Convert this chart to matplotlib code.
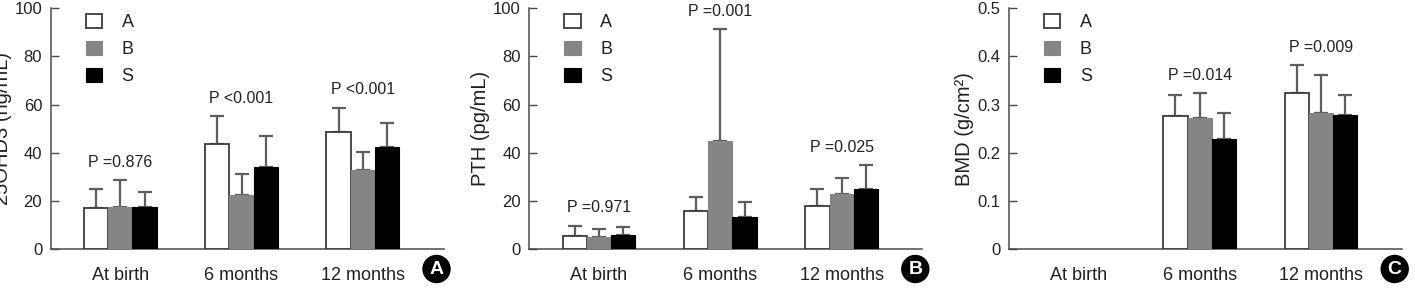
import matplotlib
matplotlib.use("Agg")
import matplotlib.pyplot as plt
from matplotlib.patches import Circle
import numpy as np

plt.rcParams['font.family'] = ['Liberation Sans', 'DejaVu Sans']

categories = ["At birth", "6 months", "12 months"]
groups = ["A", "B", "S"]

# Panel A: 25OHD3 (ng/mL)
ohd_mean = {"A": [17.0, 43.6, 48.6], "B": [17.7, 22.4, 32.9], "S": [17.7, 34.3, 42.3]}
ohd_top = {"A": [24.9, 55.1, 58.6], "B": [28.7, 31.2, 40.5], "S": [23.6, 47.1, 52.2]}
ohd_p = ["P =0.876", "P <0.001", "P <0.001"]

# Panel B: PTH (pg/mL)
pth_mean = {"A": [5.5, 16.0, 18.1], "B": [5.2, 44.8, 22.9], "S": [5.9, 13.5, 24.9]}
pth_top = {"A": [9.7, 21.5, 24.9], "B": [8.3, 91.2, 29.7], "S": [9.1, 19.8, 34.9]}
pth_p = ["P =0.971", "P =0.001", "P =0.025"]

# Panel C: BMD (g/cm2) - no measurement at birth
bmd_mean = {"A": [np.nan, 0.276, 0.324], "B": [np.nan, 0.272, 0.282], "S": [np.nan, 0.228, 0.278]}
bmd_top = {"A": [np.nan, 0.320, 0.381], "B": [np.nan, 0.323, 0.361], "S": [np.nan, 0.283, 0.319]}
bmd_p = [None, "P =0.014", "P =0.009"]

panels = [
    dict(mean=ohd_mean, top=ohd_top, p=ohd_p, ylim=(0, 100), yticks=[0, 20, 40, 60, 80, 100],
         yticklabels=["0", "20", "40", "60", "80", "100"], ylabel="25OHD3 (ng/mL)", tag="A"),
    dict(mean=pth_mean, top=pth_top, p=pth_p, ylim=(0, 100), yticks=[0, 20, 40, 60, 80, 100],
         yticklabels=["0", "20", "40", "60", "80", "100"], ylabel="PTH (pg/mL)", tag="B"),
    dict(mean=bmd_mean, top=bmd_top, p=bmd_p, ylim=(0, 0.5), yticks=[0, 0.1, 0.2, 0.3, 0.4, 0.5],
         yticklabels=["0", "0.1", "0.2", "0.3", "0.4", "0.5"], ylabel="BMD (g/cm²)", tag="C"),
]

W, H = 1415, 294
fig = plt.figure(figsize=(W / 100, H / 100), dpi=100)

lefts_px = [50.5, 529.3, 1008.7]
width_px = 393
bottom_px = 249.3
top_px = 8

styles = {
    "A": dict(color="white", edgecolor="#3c3c3c", linewidth=1.3),
    "B": dict(color="#858585", edgecolor="#858585", linewidth=0.8),
    "S": dict(color="black", edgecolor="black", linewidth=0.8),
}
err_color = "#5e5e5e"
spine_color = "#4a4a4a"
text_color = "#222222"
bw = 0.2

for pi, (panel, lpx) in enumerate(zip(panels, lefts_px)):
    ax = fig.add_axes([lpx / W, (H - bottom_px) / H, width_px / W, (bottom_px - top_px) / H])
    x = np.arange(len(categories))
    for gi, g in enumerate(groups):
        m = np.array(panel["mean"][g], dtype=float)
        t = np.array(panel["top"][g], dtype=float)
        xs = x + (gi - 1) * bw
        ax.bar(xs, m, width=bw, label=g, zorder=3, **styles[g])
        err = t - m
        ok = ~np.isnan(m)
        ax.errorbar(xs[ok], m[ok], yerr=[np.zeros(ok.sum()), err[ok]], fmt="none",
                    ecolor=err_color, elinewidth=1.6, capsize=5, capthick=1.6, zorder=2)
    ymin, ymax = panel["ylim"]
    for ci, ptxt in enumerate(panel["p"]):
        if ptxt is None:
            continue
        mx = max(panel["top"][g][ci] for g in groups)
        ax.text(x[ci], mx + 0.056 * (ymax - ymin), ptxt, ha="center", va="baseline",
                fontsize=11.5, color=text_color, zorder=4)
    ax.set_xlim(-0.575, 2.665)
    ax.set_ylim(ymin, ymax)
    ax.set_xticks(x)
    ax.set_xticklabels(categories, fontsize=13, color=text_color)
    ax.set_yticks(panel["yticks"])
    ax.set_yticklabels(panel["yticklabels"], fontsize=12, color=text_color)
    ax.tick_params(axis="x", length=0, pad=13)
    ax.tick_params(axis="y", direction="in", length=6, width=1, color=spine_color, pad=6)
    for s in ["top", "right"]:
        ax.spines[s].set_visible(False)
    for s in ["left", "bottom"]:
        ax.spines[s].set_color(spine_color)
        ax.spines[s].set_linewidth(1.1)
    ax.set_ylabel(panel["ylabel"], fontsize=14.5, color=text_color, labelpad=2)
    leg = ax.legend(loc="upper left", bbox_to_anchor=(35 / width_px, 0.975), frameon=False,
                    fontsize=13, handlelength=0.9, handleheight=0.85, handletextpad=1.1,
                    labelspacing=0.52, borderpad=0, borderaxespad=0)
    for txt in leg.get_texts():
        txt.set_color(text_color)
    ax.patch.set_alpha(0)

    # circled panel tag
    cx = (lpx + width_px - 7) / 100
    cy = (H - 269) / 100
    circ = Circle((cx, cy), 0.135, transform=fig.dpi_scale_trans, facecolor="black",
                  edgecolor="black", zorder=5)
    fig.add_artist(circ)
    fig.text(lpx / W + (width_px - 7) / W, 1 - 269.5 / H, panel["tag"], ha="center", va="center",
             color="white", fontsize=14, fontweight="bold", zorder=6)

fig.savefig("out.png", dpi=100)
